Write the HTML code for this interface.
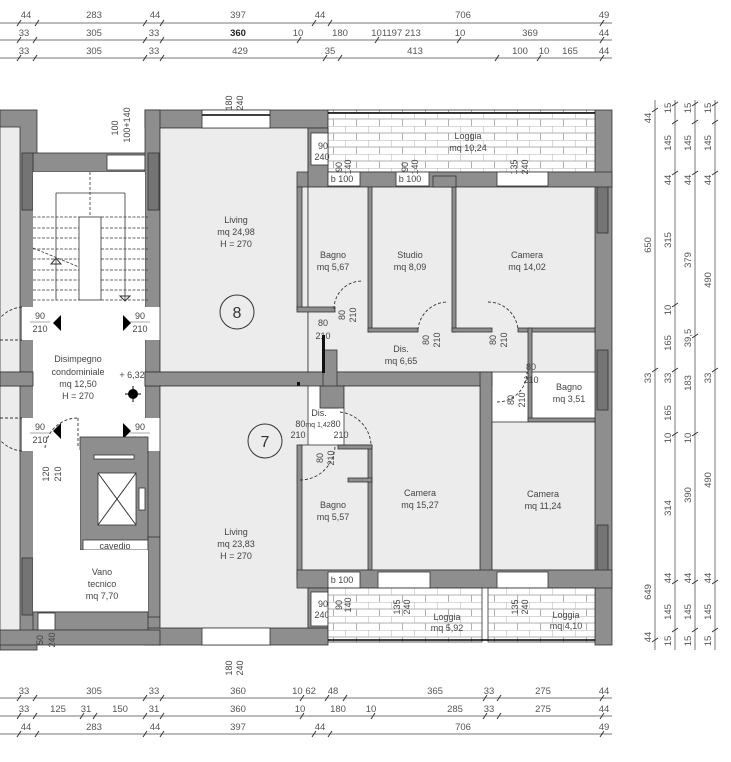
<!DOCTYPE html>
<html><head><meta charset="utf-8"><style>
html,body{margin:0;padding:0;background:#fff;}
svg{display:block;font-family:"Liberation Sans",sans-serif;}
.w{fill:#8e8e8e;stroke:#333;stroke-width:0.8}
.dw{fill:#747474;stroke:#333;stroke-width:0.8}
.f{fill:#ececec;stroke:#333;stroke-width:0.8}
.wh{fill:#fff;stroke:#333;stroke-width:0.8}
.t{font-size:9px;fill:#444;text-anchor:middle}
.d{font-size:9.5px;fill:#555;text-anchor:middle}
.dl{stroke:#777;stroke-width:1;fill:none}
.dash{stroke:#333;stroke-width:0.9;fill:none;stroke-dasharray:3,2}
</style></head><body>
<svg width="731" height="762" viewBox="0 0 731 762" xmlns="http://www.w3.org/2000/svg">
<defs>
<pattern id="tile" width="23" height="14" patternUnits="userSpaceOnUse">
<rect width="23" height="14" fill="#fff"/>
<line x1="0" y1="0" x2="23" y2="0" stroke="#b0b0b0"/>
<line x1="0" y1="7" x2="23" y2="7" stroke="#b0b0b0"/>
<line x1="0" y1="0" x2="0" y2="7" stroke="#b0b0b0"/>
<line x1="11.5" y1="7" x2="11.5" y2="14" stroke="#b0b0b0"/>
</pattern>
</defs>

<rect class="w" x="0" y="110" width="37" height="540"/>
<rect class="f" x="0" y="127" width="20" height="505"/>
<rect class="w" x="0" y="372" width="33" height="14"/>
<rect class="w" x="33" y="153" width="127" height="19"/>
<rect class="wh" x="107" y="155" width="38" height="15"/>
<rect class="w" x="145" y="110" width="183" height="18"/>
<rect class="w" x="145" y="110" width="15" height="535"/>
<rect class="w" x="145" y="628" width="183" height="17"/>
<rect class="w" x="595" y="110" width="17" height="535"/>
<rect class="dw" x="597" y="178" width="11" height="55"/>
<rect class="dw" x="597" y="350" width="11" height="60"/>
<rect class="dw" x="597" y="525" width="11" height="57"/>
<rect class="dw" x="22" y="153" width="11" height="57"/>
<rect class="dw" x="22" y="558" width="11" height="57"/>
<rect class="dw" x="148" y="153" width="11" height="57"/>
<rect class="dw" x="148" y="548" width="11" height="57"/>

<rect x="33" y="172" width="112" height="365" fill="#fff"/>
<rect x="22" y="307" width="11" height="33" fill="#fff"/>
<rect x="22" y="418" width="11" height="33" fill="#fff"/>
<rect x="145" y="307" width="15" height="33" fill="#fff"/>
<rect x="145" y="418" width="15" height="33" fill="#fff"/>
<rect class="w" x="145" y="372" width="15" height="14"/>
<rect class="w" x="0" y="372" width="33" height="14"/>
<g stroke="#333" stroke-width="0.8" fill="none">
<rect x="79" y="217" width="22" height="83" fill="#fff"/>
<line x1="56" y1="193" x2="56" y2="217"/><line x1="56" y1="193" x2="125" y2="193"/><line x1="125" y1="193" x2="125" y2="217"/>
<line x1="90" y1="172" x2="90" y2="217" stroke-dasharray="3,2"/>
<line x1="125" y1="217" x2="125" y2="300"/>
</g>
<g stroke="#333" stroke-width="0.8" stroke-dasharray="3,1.5">
<line x1="33" y1="217" x2="79" y2="217"/><line x1="33" y1="228" x2="79" y2="228"/><line x1="33" y1="238" x2="79" y2="238"/><line x1="33" y1="249" x2="79" y2="249"/><line x1="33" y1="259" x2="79" y2="259"/><line x1="33" y1="270" x2="79" y2="270"/><line x1="33" y1="280" x2="79" y2="280"/><line x1="33" y1="290" x2="79" y2="290"/><line x1="33" y1="300" x2="79" y2="300"/>
<line x1="101" y1="217" x2="148" y2="217"/><line x1="101" y1="228" x2="148" y2="228"/><line x1="101" y1="238" x2="148" y2="238"/><line x1="101" y1="249" x2="148" y2="249"/><line x1="101" y1="259" x2="148" y2="259"/><line x1="101" y1="270" x2="148" y2="270"/><line x1="101" y1="280" x2="148" y2="280"/><line x1="101" y1="290" x2="148" y2="290"/><line x1="101" y1="300" x2="148" y2="300"/>
<line x1="33" y1="248" x2="79" y2="267"/>
</g>
<line x1="56" y1="217" x2="56" y2="300" stroke="#333" stroke-width="0.8"/>
<path d="M51 264 L56 258 L61 264 Z" fill="none" stroke="#333"/>
<path d="M120 296 L125 301 L130 296 Z" fill="none" stroke="#333"/>

<g class="dash"><path d="M22 307 A33 33 0 0 0 0 318"/><path d="M160 307 A33 33 0 0 1 193 340 L160 340"/><path d="M22 451 A33 33 0 0 1 0 440"/><path d="M160 451 A33 33 0 0 0 193 418 L160 418"/><path d="M0 340 L22 340"/><path d="M0 418 L22 418"/><path d="M78 418 L78 448"/><path d="M45 448 A33 33 0 0 1 78 418"/></g>
<polygon points="61,315 61,331 53,323" fill="#000"/>
<polygon points="123,315 123,331 131,323" fill="#000"/>
<polygon points="61,423 61,439 53,431" fill="#000"/>
<polygon points="123,423 123,439 131,431" fill="#000"/>
<text class="t" x="40" y="319">90</text><line x1="30" y1="322" x2="50" y2="322" stroke="#555" stroke-width="0.6"/><text class="t" x="40" y="332">210</text>
<text class="t" x="140" y="319">90</text><line x1="130" y1="322" x2="150" y2="322" stroke="#555" stroke-width="0.6"/><text class="t" x="140" y="332">210</text>
<text class="t" x="40" y="430">90</text><line x1="30" y1="433" x2="50" y2="433" stroke="#555" stroke-width="0.6"/><text class="t" x="40" y="443">210</text>
<text class="t" x="140" y="430">90</text><line x1="130" y1="433" x2="150" y2="433" stroke="#555" stroke-width="0.6"/><text class="t" x="140" y="443">210</text>
<text class="t" x="78" y="362">Disimpegno</text>
<text class="t" x="78" y="375">condominiale</text>
<text class="t" x="78" y="387">mq 12,50</text>
<text class="t" x="78" y="399">H = 270</text>
<text class="t" x="132" y="378">+ 6,32</text>
<circle cx="133" cy="394" r="5" fill="#000"/><line x1="125" y1="394" x2="141" y2="394" stroke="#000"/><line x1="133" y1="386" x2="133" y2="402" stroke="#000"/>

<rect class="w" x="80" y="437" width="68" height="113"/>
<rect class="wh" x="94" y="455" width="40" height="4"/>
<rect class="wh" x="83" y="540" width="65" height="10"/>
<text class="t" x="115" y="549">cavedio</text>
<rect class="w" x="148" y="537" width="12" height="80" />
<rect class="wh" x="98" y="473" width="38" height="52"/>
<line x1="98" y1="473" x2="136" y2="525" stroke="#333"/><line x1="136" y1="473" x2="98" y2="525" stroke="#333"/>
<rect class="wh" x="139" y="488" width="6" height="22"/>
<rect x="33" y="450" width="47" height="162" fill="#fff"/>
<rect x="80" y="550" width="68" height="62" fill="#fff"/>
<line x1="33" y1="612" x2="148" y2="612" stroke="#333"/>
<rect class="w" x="33" y="612" width="115" height="18"/>
<rect class="wh" x="38" y="613" width="17" height="17"/>
<rect class="w" x="0" y="630" width="160" height="15"/>
<text class="t" x="102" y="575">Vano</text><text class="t" x="102" y="587">tecnico</text><text class="t" x="102" y="599">mq 7,70</text>
<text class="t" transform="translate(49,474) rotate(-90)">120</text><text class="t" transform="translate(61,474) rotate(-90)">210</text>
<text class="t" transform="translate(43,640) rotate(-90)">50</text><text class="t" transform="translate(55,640) rotate(-90)">240</text>
<text class="t" transform="translate(118,128) rotate(-90)">100</text><text class="t" transform="translate(130,125) rotate(-90)">100+140</text>

<rect class="f" x="160" y="128" width="148" height="244"/>
<rect class="wh" x="202" y="110" width="68" height="18"/>
<line x1="202" y1="115" x2="270" y2="115" stroke="#000" stroke-width="1.5"/>
<line x1="202" y1="640" x2="270" y2="640" stroke="#000" stroke-width="1.5"/>
<text class="t" transform="translate(232,103) rotate(-90)">180</text><text class="t" transform="translate(243,103) rotate(-90)">240</text>
<text class="t" x="236" y="223">Living</text><text class="t" x="236" y="235">mq 24,98</text><text class="t" x="236" y="247">H = 270</text>
<circle cx="237" cy="312" r="17" fill="none" stroke="#333"/><text x="237" y="318" font-size="16" text-anchor="middle" fill="#333">8</text>

<rect x="328" y="110" width="267" height="62" fill="url(#tile)" stroke="#333" stroke-width="0.8"/>
<line x1="328" y1="113" x2="595" y2="113" stroke="#000" stroke-width="1.5"/>
<text class="t" x="468" y="139">Loggia</text><text class="t" x="468" y="151">mq 10,24</text>
<rect class="w" x="297" y="172" width="315" height="15"/>
<rect class="w" x="308" y="128" width="20" height="59"/>
<rect class="wh" x="311" y="133" width="17" height="32"/>
<text class="t" x="323" y="149">90</text><text class="t" x="322" y="160">240</text>
<rect class="wh" x="328" y="172" width="32" height="14"/><text class="t" x="342" y="182">b 100</text>
<rect class="wh" x="396" y="172" width="33" height="14"/><text class="t" x="410" y="182">b 100</text>
<rect class="wh" x="497" y="172" width="51" height="14"/>
<text class="t" transform="translate(342,167) rotate(-90)">90</text><text class="t" transform="translate(351,167) rotate(-90)">140</text>
<text class="t" transform="translate(408,167) rotate(-90)">90</text><text class="t" transform="translate(418,167) rotate(-90)">140</text>
<text class="t" transform="translate(517,167) rotate(-90)">135</text><text class="t" transform="translate(528,167) rotate(-90)">240</text>
<rect class="f" x="308" y="187" width="287" height="185"/>
<rect class="w" x="297" y="187" width="5" height="123"/>
<rect class="w" x="297" y="307" width="38" height="5"/>
<rect class="w" x="368" y="187" width="4" height="145"/>
<rect class="w" x="368" y="328" width="50" height="4"/>
<rect class="w" x="452" y="187" width="4" height="145"/>
<rect class="w" x="452" y="328" width="40" height="4"/>
<rect class="w" x="518" y="328" width="77" height="4"/>
<rect class="w" x="528" y="328" width="4" height="92"/>
<rect class="w" x="528" y="418" width="67" height="4"/>
<rect class="w" x="433" y="176" width="23" height="11"/>
<path class="dash" d="M334 309 A28 28 0 0 1 362 281"/>
<path class="dash" d="M418 330 A30 30 0 0 1 448 302"/>
<path class="dash" d="M488 302 A30 30 0 0 1 518 330"/>
<path class="dash" d="M497 402 A30 30 0 0 0 527 372"/>
<text class="t" x="333" y="258">Bagno</text><text class="t" x="333" y="270">mq 5,67</text>
<text class="t" x="410" y="258">Studio</text><text class="t" x="410" y="270">mq 8,09</text>
<text class="t" x="527" y="258">Camera</text><text class="t" x="527" y="270">mq 14,02</text>
<text class="t" x="401" y="352">Dis.</text><text class="t" x="401" y="364">mq 6,65</text>
<text class="t" x="569" y="390">Bagno</text><text class="t" x="569" y="402">mq 3,51</text>
<text class="t" x="323" y="326">80</text><text class="t" x="323" y="339">210</text>
<text class="t" x="531" y="370">80</text><text class="t" x="531" y="383">210</text>
<text class="t" transform="translate(345,315) rotate(-90)">80</text><text class="t" transform="translate(356,315) rotate(-90)">210</text>
<text class="t" transform="translate(429,340) rotate(-90)">80</text><text class="t" transform="translate(440,340) rotate(-90)">210</text>
<text class="t" transform="translate(496,340) rotate(-90)">80</text><text class="t" transform="translate(507,340) rotate(-90)">210</text>
<text class="t" transform="translate(514,400) rotate(-90)">80</text><text class="t" transform="translate(525,400) rotate(-90)">210</text>

<rect class="w" x="145" y="372" width="347" height="14"/>
<rect class="w" x="480" y="372" width="12" height="210"/>
<rect class="w" x="323" y="350" width="14" height="58"/>
<rect class="w" x="320" y="386" width="24" height="22"/>
<rect x="322" y="335" width="3" height="38" fill="#111"/>
<rect x="297" y="382" width="3" height="34" fill="#111"/>

<rect class="f" x="160" y="386" width="148" height="242"/>
<text class="t" x="236" y="535">Living</text><text class="t" x="236" y="547">mq 23,83</text><text class="t" x="236" y="559">H = 270</text>
<circle cx="265" cy="441" r="17" fill="none" stroke="#333"/><text x="265" y="447" font-size="16" text-anchor="middle" fill="#333">7</text>
<rect class="wh" x="202" y="628" width="68" height="17"/>
<text class="t" transform="translate(232,668) rotate(-90)">180</text><text class="t" transform="translate(243,668) rotate(-90)">240</text>
<rect class="f" x="344" y="386" width="136" height="184"/>
<rect class="f" x="492" y="422" width="103" height="148"/>
<rect class="f" x="300" y="445" width="70" height="125"/>
<rect class="w" x="297" y="445" width="5" height="135"/>
<rect class="w" x="368" y="445" width="4" height="125"/>
<rect class="w" x="338" y="445" width="34" height="4"/>
<rect class="w" x="348" y="478" width="24" height="4"/>
<path class="dash" d="M300 480 A35 35 0 0 0 335 445"/>
<path class="dash" d="M340 412 A35 35 0 0 1 371 444"/>
<text class="t" x="319" y="416" font-size="7">Dis.</text>
<text class="t" x="318" y="427">80<tspan font-size="7">mq 1,42</tspan>80</text>
<text class="t" x="298" y="438">210</text><text class="t" x="341" y="438">210</text>
<text class="t" transform="translate(323,458) rotate(-90)">80</text><text class="t" transform="translate(334,458) rotate(-90)">210</text>
<text class="t" x="333" y="508">Bagno</text><text class="t" x="333" y="520">mq 5,57</text>
<text class="t" x="420" y="496">Camera</text><text class="t" x="420" y="508">mq 15,27</text>
<text class="t" x="543" y="497">Camera</text><text class="t" x="543" y="509">mq 11,24</text>

<rect class="w" x="297" y="570" width="315" height="18"/>
<rect class="w" x="308" y="588" width="20" height="40"/>
<rect class="wh" x="311" y="592" width="17" height="34"/>
<text class="t" x="323" y="607">90</text><text class="t" x="322" y="618">240</text>
<rect class="wh" x="328" y="572" width="32" height="16"/><text class="t" x="342" y="583">b 100</text>
<rect class="wh" x="378" y="572" width="52" height="16"/>
<rect class="wh" x="497" y="572" width="51" height="16"/>
<rect x="328" y="588" width="154" height="54" fill="url(#tile)" stroke="#333" stroke-width="0.8"/>
<rect x="488" y="588" width="107" height="54" fill="url(#tile)" stroke="#333" stroke-width="0.8"/>
<line x1="328" y1="640" x2="595" y2="640" stroke="#000" stroke-width="1.5"/>
<text class="t" x="447" y="620">Loggia</text><text class="t" x="447" y="631">mq 5,92</text>
<text class="t" x="566" y="618">Loggia</text><text class="t" x="566" y="629">mq 4,10</text>
<text class="t" transform="translate(342,605) rotate(-90)">90</text><text class="t" transform="translate(351,605) rotate(-90)">140</text>
<text class="t" transform="translate(400,607) rotate(-90)">135</text><text class="t" transform="translate(410,607) rotate(-90)">240</text>
<text class="t" transform="translate(518,607) rotate(-90)">135</text><text class="t" transform="translate(528,607) rotate(-90)">240</text>

<g class="dl"><line x1="0" y1="23" x2="612" y2="23"/><line x1="0" y1="40" x2="612" y2="40"/><line x1="0" y1="58" x2="612" y2="58"/>
<line x1="0" y1="698" x2="612" y2="698"/><line x1="0" y1="716" x2="612" y2="716"/><line x1="0" y1="734" x2="612" y2="734"/></g>
<g stroke="#333" stroke-width="1">
<path d="M17 26l4-6M35 26l4-6M143 26l4-6M160 26l4-6M312 26l4-6M328 26l4-6M600 26l4-6"/>
<path d="M17 43l4-6M33 43l4-6M143 43l4-6M160 43l4-6M297 43l4-6M375 43l4-6M457 43l4-6M600 43l4-6"/>
<path d="M17 61l4-6M33 61l4-6M143 61l4-6M160 61l4-6M323 61l4-6M338 61l4-6M495 61l4-6M537 61l4-6M600 61l4-6"/>
<path d="M17 701l4-6M33 701l4-6M143 701l4-6M160 701l4-6M300 701l4-6M325 701l4-6M343 701l4-6M483 701l4-6M497 701l4-6M600 701l4-6"/>
<path d="M17 719l4-6M33 719l4-6M80 719l4-6M93 719l4-6M143 719l4-6M160 719l4-6M300 719l4-6M371 719l4-6M483 719l4-6M497 719l4-6M600 719l4-6"/>
<path d="M17 737l4-6M35 737l4-6M143 737l4-6M160 737l4-6M312 737l4-6M328 737l4-6M600 737l4-6"/>
</g>
<g class="d">
<text x="26" y="18">44</text><text x="94" y="18">283</text><text x="155" y="18">44</text><text x="238" y="18">397</text><text x="320" y="18">44</text><text x="463" y="18">706</text><text x="604" y="18">49</text>
<text x="24" y="36">33</text><text x="94" y="36">305</text><text x="154" y="36">33</text><text x="238" y="36" font-weight="bold" fill="#222">360</text><text x="298" y="36">10</text><text x="340" y="36">180</text><text x="396" y="36">101197 213</text><text x="460" y="36">10</text><text x="530" y="36">369</text><text x="604" y="36">44</text>
<text x="24" y="54">33</text><text x="94" y="54">305</text><text x="154" y="54">33</text><text x="240" y="54">429</text><text x="330" y="54">35</text><text x="415" y="54">413</text><text x="520" y="54">100</text><text x="544" y="54">10</text><text x="570" y="54">165</text><text x="604" y="54">44</text>
<text x="24" y="694">33</text><text x="94" y="694">305</text><text x="154" y="694">33</text><text x="238" y="694">360</text><text x="304" y="694">10 62</text><text x="333" y="694">48</text><text x="435" y="694">365</text><text x="489" y="694">33</text><text x="543" y="694">275</text><text x="604" y="694">44</text>
<text x="24" y="712">33</text><text x="58" y="712">125</text><text x="86" y="712">31</text><text x="120" y="712">150</text><text x="154" y="712">31</text><text x="238" y="712">360</text><text x="300" y="712">10</text><text x="338" y="712">180</text><text x="371" y="712">10</text><text x="455" y="712">285</text><text x="489" y="712">33</text><text x="543" y="712">275</text><text x="604" y="712">44</text>
<text x="26" y="730">44</text><text x="94" y="730">283</text><text x="155" y="730">44</text><text x="238" y="730">397</text><text x="320" y="730">44</text><text x="463" y="730">706</text><text x="604" y="730">49</text>
</g>

<g class="dl"><line x1="655" y1="100" x2="655" y2="650"/><line x1="675" y1="100" x2="675" y2="650"/><line x1="695" y1="100" x2="695" y2="650"/><line x1="715" y1="100" x2="715" y2="650"/></g>
<g stroke="#333" stroke-width="1">
<path d="M652 112l6-4M652 372l6-4M652 642l6-4"/>
<path d="M672 106l6-4M672 124l6-4M672 175l6-4M672 307l6-4M672 372l6-4M672 436l6-4M672 584l6-4M672 632l6-4"/>
<path d="M692 106l6-4M692 124l6-4M692 175l6-4M692 338l6-4M692 436l6-4M692 584l6-4M692 632l6-4"/>
<path d="M712 106l6-4M712 124l6-4M712 175l6-4M712 372l6-4M712 584l6-4M712 632l6-4"/>
</g>
<g class="d">
<text transform="translate(651,118) rotate(-90)">44</text><text transform="translate(651,245) rotate(-90)">650</text><text transform="translate(651,378) rotate(-90)">33</text><text transform="translate(651,592) rotate(-90)">649</text><text transform="translate(651,637) rotate(-90)">44</text>
<text transform="translate(671,108) rotate(-90)">15</text><text transform="translate(671,143) rotate(-90)">145</text><text transform="translate(671,180) rotate(-90)">44</text><text transform="translate(671,240) rotate(-90)">315</text><text transform="translate(671,310) rotate(-90)">10</text><text transform="translate(671,343) rotate(-90)">165</text><text transform="translate(671,378) rotate(-90)">33</text><text transform="translate(671,413) rotate(-90)">165</text><text transform="translate(671,438) rotate(-90)">10</text><text transform="translate(671,508) rotate(-90)">314</text><text transform="translate(671,578) rotate(-90)">44</text><text transform="translate(671,612) rotate(-90)">145</text><text transform="translate(671,641) rotate(-90)">15</text>
<text transform="translate(691,108) rotate(-90)">15</text><text transform="translate(691,143) rotate(-90)">145</text><text transform="translate(691,180) rotate(-90)">44</text><text transform="translate(691,260) rotate(-90)">379</text><text transform="translate(691,338) rotate(-90)">39,5</text><text transform="translate(691,383) rotate(-90)">183</text><text transform="translate(691,438) rotate(-90)">10</text><text transform="translate(691,495) rotate(-90)">390</text><text transform="translate(691,578) rotate(-90)">44</text><text transform="translate(691,612) rotate(-90)">145</text><text transform="translate(691,641) rotate(-90)">15</text>
<text transform="translate(711,108) rotate(-90)">15</text><text transform="translate(711,143) rotate(-90)">145</text><text transform="translate(711,180) rotate(-90)">44</text><text transform="translate(711,280) rotate(-90)">490</text><text transform="translate(711,378) rotate(-90)">33</text><text transform="translate(711,480) rotate(-90)">490</text><text transform="translate(711,578) rotate(-90)">44</text><text transform="translate(711,612) rotate(-90)">145</text><text transform="translate(711,641) rotate(-90)">15</text>
</g>
</svg>
</body></html>
